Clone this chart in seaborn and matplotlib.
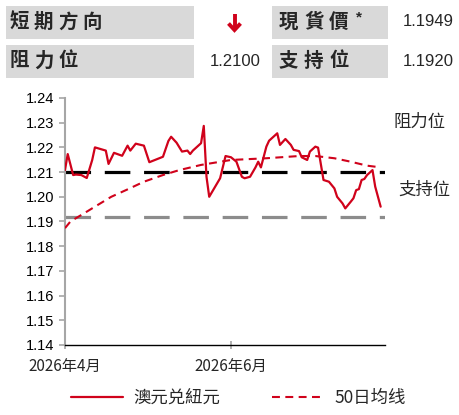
import pandas as pd
import numpy as np
import matplotlib
matplotlib.use("Agg")
import matplotlib.pyplot as plt
from matplotlib.patches import Rectangle
from matplotlib.lines import Line2D
import seaborn as sns

# 數據
start_date = "2026-04-01"
price_days = [0, 1, 3, 4, 6, 8, 10, 11, 15, 16, 18, 21, 23, 24, 26, 29, 31, 36, 38, 39,
              41, 43, 45, 46, 47, 50, 51, 52, 53, 57, 59, 61, 63, 65, 66, 68, 70, 71, 72,
              74, 75, 78, 79, 81, 83, 84, 86, 87, 89, 90, 92, 93, 95, 97, 99, 100, 102,
              103, 105, 106, 107, 108, 109, 110, 111, 113, 114, 116]
price_vals = [1.2108, 1.2173, 1.2088, 1.2090, 1.2088, 1.2076, 1.2149, 1.2200, 1.2187, 1.2133,
              1.2178, 1.2166, 1.2207, 1.2187, 1.2215, 1.2207, 1.2140, 1.2162, 1.2226, 1.2243,
              1.2219, 1.2183, 1.2187, 1.2173, 1.2187, 1.2217, 1.2287, 1.2081, 1.2000, 1.2075,
              1.2165, 1.2160, 1.2142, 1.2081, 1.2075, 1.2081, 1.2119, 1.2142, 1.2119, 1.2203,
              1.2227, 1.2257, 1.2210, 1.2234, 1.2210, 1.2190, 1.2185, 1.2160, 1.2149, 1.2183,
              1.2203, 1.2199, 1.2068, 1.2061, 1.2034, 1.2000, 1.1973, 1.1953, 1.1980, 1.1994,
              1.2027, 1.2031, 1.2068, 1.2072, 1.2088, 1.2108, 1.2041, 1.1960]
ma_days = [0, 2, 7, 11, 17, 23, 29, 36, 42, 50, 61, 74, 86, 92, 99, 105, 111, 116]
ma_vals = [1.1873, 1.1900, 1.1933, 1.1960, 1.2000, 1.2030, 1.2061, 1.2088, 1.2108, 1.2129,
           1.2149, 1.2156, 1.2165, 1.2165, 1.2156, 1.2142, 1.2126, 1.2119]
resistance = 1.2100
support = 1.1920
spot = 1.1949
yticks = [1.14, 1.15, 1.16, 1.17, 1.18, 1.19, 1.20, 1.21, 1.22, 1.23, 1.24]
xtick_dates = ["2026-04-01", "2026-06-01"]
xtick_labels = ["2026年4月", "2026年6月"]

base = pd.Timestamp(start_date)
price = pd.DataFrame({"date": base + pd.to_timedelta(price_days, unit="D"), "val": price_vals})
ma = pd.DataFrame({"date": base + pd.to_timedelta(ma_days, unit="D"), "val": ma_vals})

sns.set_theme(style="white")
plt.rcParams["font.family"] = ["Noto Sans CJK SC", "DejaVu Sans"]

red = "#d0021b"
fig = plt.figure(figsize=(4.59, 4.15), dpi=100)
ax = fig.add_axes([0.1416, 0.1687, 0.6972, 0.5952])

ax.axhline(resistance, color="black", lw=2.3, dashes=(8, 4.3), zorder=1)
ax.axhline(support, color="#8c8c8c", lw=2.3, dashes=(8, 4.3), zorder=1)
sns.lineplot(data=ma, x="date", y="val", ax=ax, color=red, lw=1.5,
             dashes=False, linestyle=(0, (3.8, 2.6)), label="50日均线", zorder=3)
sns.lineplot(data=price, x="date", y="val", ax=ax, color=red, lw=1.6,
             label="澳元兑紐元", zorder=4)

ax.set_xlim(base, base + pd.Timedelta(days=117.6))
ax.set_ylim(1.14, 1.24)
ax.set_yticks(yticks)
ax.set_yticklabels([f"{v:.2f}" for v in yticks], family="Liberation Sans", fontsize=10.5)
ax.set_xticks(pd.to_datetime(xtick_dates))
ax.set_xticklabels(xtick_labels, fontsize=11)
ax.set_xlabel("")
ax.set_ylabel("")
ax.tick_params(axis="y", left=True, length=4, width=1.2, color="#a6a6a6", pad=4, colors="black")
ax.tick_params(axis="x", bottom=True, length=6, width=1.2, color="#a6a6a6", direction="inout", pad=6)
for s in ["top", "right"]:
    ax.spines[s].set_visible(False)
ax.spines["left"].set_color("#a6a6a6")
ax.spines["left"].set_linewidth(1.5)
ax.spines["bottom"].set_color("black")
ax.spines["bottom"].set_linewidth(1.0)

ax.get_legend().remove()
handles, labels = ax.get_legend_handles_labels()
order = [labels.index("澳元兑紐元"), labels.index("50日均线")]
fig.legend([handles[i] for i in order], [labels[i] for i in order], loc="center",
           bbox_to_anchor=(0.52, 0.04), ncol=2, frameon=False, fontsize=12.5,
           handlelength=3.0, columnspacing=3.0, handletextpad=0.6)

fig.text(393 / 459, 1 - 122 / 415, "阻力位", fontsize=12.5, va="center", ha="left")
fig.text(398 / 459, 1 - 190 / 415, "支持位", fontsize=12.5, va="center", ha="left")

# 頂部表格
W, H = 459, 415
gray = "#d9d9d9"
for x0, x1, y0, y1 in [(6, 194, 6, 39), (272, 388, 6, 39), (6, 194, 45, 78), (272, 388, 45, 78)]:
    fig.add_artist(Rectangle((x0 / W, 1 - y1 / H), (x1 - x0) / W, (y1 - y0) / H,
                             transform=fig.transFigure, facecolor=gray, edgecolor="none"))

def spaced(text, x, y, step):
    for i, ch in enumerate(text):
        fig.text((x + i * step) / W, 1 - y / H, ch, fontsize=14, fontweight="bold",
                 va="center", ha="left")

spaced("短期方向", 10, 22, 24)
spaced("現貨價", 279, 22, 25)
fig.text(356 / W, 1 - 17 / H, "*", fontsize=11, fontweight="bold", va="center", ha="left",
         family="Liberation Sans")
spaced("阻力位", 10, 61, 24)
spaced("支持位", 279, 61, 25)

# 紅色向下箭頭
def fig_line(xs, ys):
    fig.add_artist(Line2D([x / W for x in xs], [1 - y / H for y in ys], transform=fig.transFigure,
                          color=red, lw=2.8, solid_capstyle="butt", solid_joinstyle="miter"))

fig_line([234.5, 234.5], [14, 29])
fig_line([228.5, 234.5, 240.5], [23.5, 30, 23.5])

fig.text(454 / W, 1 - 22 / H, f"{spot:.4f}", fontsize=12, va="center", ha="right",
         family="Liberation Sans")
fig.text(261 / W, 1 - 61 / H, f"{resistance:.4f}", fontsize=12, va="center", ha="right",
         family="Liberation Sans")
fig.text(454 / W, 1 - 61 / H, f"{support:.4f}", fontsize=12, va="center", ha="right",
         family="Liberation Sans")

fig.savefig("out.png", dpi=100)
